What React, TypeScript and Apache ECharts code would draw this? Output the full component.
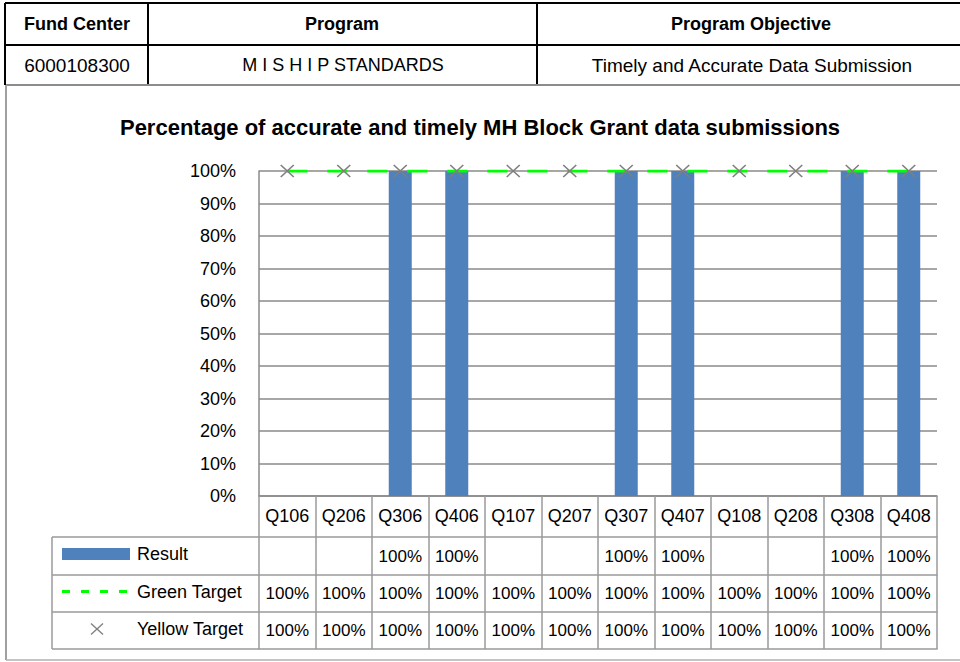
import React, { useEffect, useRef } from "react";
import * as echarts from "echarts";

// ---- Data ----
const CATEGORIES = ["Q106", "Q206", "Q306", "Q406", "Q107", "Q207", "Q307", "Q407", "Q108", "Q208", "Q308", "Q408"];
const RESULT: (number | null)[] = [null, null, 1, 1, null, null, 1, 1, null, null, 1, 1];
const GREEN_TARGET: number[] = [1, 1, 1, 1, 1, 1, 1, 1, 1, 1, 1, 1];
const YELLOW_TARGET: number[] = [1, 1, 1, 1, 1, 1, 1, 1, 1, 1, 1, 1];
const SERIES_NAMES = ["Result", "Green Target", "Yellow Target"];
const HEADER_LABELS = ["Fund Center", "Program", "Program Objective"];
const HEADER_VALUES = ["6000108300", "M I S H I P STANDARDS", "Timely and Accurate Data Submission"];
const TITLE = "Percentage of accurate and timely MH Block Grant data submissions";

// ---- Layout ----
const FONT = "'Liberation Sans', Arial, sans-serif";
const GRID_LEFT = 259;
const GRID_RIGHT = 937;
const GRID_TOP = 171;
const GRID_BOTTOM = 496;
const ROW_Y = [496, 537, 575, 612, 649];
const LEGEND_LEFT = 52;
const TABLE_LINE = "#9a9a9a";
const GRID_LINE = "#8a8a8a";
const BLUE = "#4F81BD";
const GREEN = "#00FF00";
const XGRAY = "#7f7f7f";

const fmtPct = (v: number | null | undefined) => (v == null ? "" : Math.round(v * 100) + "%");

export default function App() {
  const ref = useRef<HTMLDivElement>(null);

  useEffect(() => {
    document.body.style.margin = "0";
    if (!ref.current) return;
    const chart = echarts.init(ref.current, null, { renderer: "svg" });

    const rowsVals = [RESULT, GREEN_TARGET, YELLOW_TARGET];

    const dataAxes: any[] = rowsVals.map((vals, r) => ({
      type: "category",
      data: CATEGORIES,
      position: "bottom",
      offset: ROW_Y[r + 1] - GRID_BOTTOM,
      axisLine: { show: true, lineStyle: { color: TABLE_LINE, width: 1.5 } },
      axisTick: { show: true, interval: 0, length: ROW_Y[r + 2] - ROW_Y[r + 1], lineStyle: { color: TABLE_LINE, width: 1.5 } },
      axisLabel: {
        interval: 0,
        fontSize: 17,
        lineHeight: 17,
        color: "#000",
        fontFamily: FONT,
        margin: Math.round((ROW_Y[r + 2] - ROW_Y[r + 1]) / 2 - 8.5),
        formatter: (_v: string, i: number) => fmtPct(vals[i]),
      },
      splitLine: { show: false },
    }));

    const bottomLineAxis = {
      type: "category",
      data: CATEGORIES,
      position: "bottom",
      offset: ROW_Y[4] - GRID_BOTTOM,
      axisLine: { show: true, lineStyle: { color: TABLE_LINE, width: 1.5 } },
      axisTick: { show: false },
      axisLabel: { show: false },
    };

    const rowCenters = [0, 1, 2].map((r) => (ROW_Y[r + 1] + ROW_Y[r + 2]) / 2);

    const graphics: any[] = [
      // Top info table
      { type: "line", shape: { x1: 5, y1: 3, x2: 960, y2: 3 }, style: { stroke: "#000", lineWidth: 2 } },
      { type: "line", shape: { x1: 5, y1: 45, x2: 960, y2: 45 }, style: { stroke: "#000", lineWidth: 2 } },
      { type: "line", shape: { x1: 5, y1: 3, x2: 5, y2: 85 }, style: { stroke: "#000", lineWidth: 2 } },
      { type: "line", shape: { x1: 148, y1: 3, x2: 148, y2: 85 }, style: { stroke: "#000", lineWidth: 2 } },
      { type: "line", shape: { x1: 537, y1: 3, x2: 537, y2: 85 }, style: { stroke: "#000", lineWidth: 2 } },
      { type: "text", x: 77, y: 24, style: { text: HEADER_LABELS[0], fontSize: 18, fontWeight: "bold", fontFamily: FONT, fill: "#000", align: "center", verticalAlign: "middle" } },
      { type: "text", x: 342, y: 24, style: { text: HEADER_LABELS[1], fontSize: 18, fontWeight: "bold", fontFamily: FONT, fill: "#000", align: "center", verticalAlign: "middle" } },
      { type: "text", x: 751, y: 24, style: { text: HEADER_LABELS[2], fontSize: 18, fontWeight: "bold", fontFamily: FONT, fill: "#000", align: "center", verticalAlign: "middle" } },
      { type: "text", x: 77, y: 65, style: { text: HEADER_VALUES[0], fontSize: 19, fontFamily: FONT, fill: "#000", align: "center", verticalAlign: "middle" } },
      { type: "text", x: 343, y: 65, style: { text: HEADER_VALUES[1], fontSize: 18, fontFamily: FONT, fill: "#000", align: "center", verticalAlign: "middle" } },
      { type: "text", x: 752, y: 65, style: { text: HEADER_VALUES[2], fontSize: 19, fontFamily: FONT, fill: "#000", align: "center", verticalAlign: "middle" } },
      // Chart box border
      { type: "line", shape: { x1: 6, y1: 85, x2: 960, y2: 85 }, style: { stroke: "#8c8c8c", lineWidth: 2 } },
      { type: "line", shape: { x1: 6, y1: 85, x2: 6, y2: 660 }, style: { stroke: "#a0a0a0", lineWidth: 2 } },
      { type: "line", shape: { x1: 6, y1: 660, x2: 960, y2: 660 }, style: { stroke: "#b0b0b0", lineWidth: 1.5 } },
      // Data table legend column borders
      ...ROW_Y.slice(1).map((y) => ({ type: "line", shape: { x1: LEGEND_LEFT, y1: y, x2: GRID_LEFT, y2: y }, style: { stroke: TABLE_LINE, lineWidth: 1.5 } })),
      { type: "line", shape: { x1: LEGEND_LEFT, y1: ROW_Y[1], x2: LEGEND_LEFT, y2: ROW_Y[4] }, style: { stroke: TABLE_LINE, lineWidth: 1.5 } },
      // Legend keys
      { type: "rect", shape: { x: 62, y: rowCenters[0] - 8, width: 68, height: 12 }, style: { fill: BLUE } },
      { type: "line", shape: { x1: 62, y1: rowCenters[1] - 2, x2: 130, y2: rowCenters[1] - 2 }, style: { stroke: GREEN, lineWidth: 3, lineDash: [8, 11] } },
      { type: "line", shape: { x1: 91, y1: rowCenters[2] - 7, x2: 103, y2: rowCenters[2] + 4 }, style: { stroke: XGRAY, lineWidth: 1.3 } },
      { type: "line", shape: { x1: 103, y1: rowCenters[2] - 7, x2: 91, y2: rowCenters[2] + 4 }, style: { stroke: XGRAY, lineWidth: 1.3 } },
      ...SERIES_NAMES.map((name, r) => ({
        type: "text",
        x: 137,
        y: rowCenters[r] - 2,
        style: { text: name, fontSize: 18, fontFamily: FONT, fill: "#000", align: "left", verticalAlign: "middle" },
      })),
    ];

    const option: any = {
      animation: false,
      backgroundColor: "#fff",
      textStyle: { fontFamily: FONT },
      title: {
        text: TITLE,
        left: "center",
        top: 116,
        padding: 0,
        textStyle: { fontSize: 22, fontWeight: "bold", color: "#000", fontFamily: FONT },
      },
      legend: { show: false },
      grid: { left: GRID_LEFT, right: 960 - GRID_RIGHT, top: GRID_TOP, height: GRID_BOTTOM - GRID_TOP, containLabel: false },
      xAxis: [
        {
          type: "category",
          data: CATEGORIES,
          position: "bottom",
          axisLine: { show: true, lineStyle: { color: GRID_LINE, width: 1.5 } },
          axisTick: { show: true, interval: 0, length: ROW_Y[1] - ROW_Y[0], lineStyle: { color: TABLE_LINE, width: 1.5 } },
          axisLabel: { interval: 0, fontSize: 18, lineHeight: 18, color: "#000", fontFamily: FONT, margin: 11 },
          splitLine: { show: false },
        },
        ...dataAxes,
        bottomLineAxis,
      ],
      yAxis: {
        type: "value",
        min: 0,
        max: 1,
        interval: 0.1,
        axisLine: { show: true, lineStyle: { color: GRID_LINE, width: 1.5 } },
        axisTick: { show: false },
        axisLabel: { fontSize: 18, color: "#000", fontFamily: FONT, margin: 23, formatter: (v: number) => fmtPct(v) },
        splitLine: { show: true, lineStyle: { color: GRID_LINE, width: 1.5 } },
      },
      series: [
        {
          name: SERIES_NAMES[0],
          type: "bar",
          data: RESULT,
          barWidth: 23,
          itemStyle: { color: BLUE },
          z: 2,
        },
        {
          name: SERIES_NAMES[1],
          type: "line",
          data: GREEN_TARGET,
          symbol: "none",
          lineStyle: { color: GREEN, width: 3, type: [20, 20] },
          z: 3,
        },
        {
          name: SERIES_NAMES[2],
          type: "line",
          data: YELLOW_TARGET,
          symbol: "path://M0,0L10,10M10,0L0,10",
          symbolSize: [13, 12],
          lineStyle: { width: 0, opacity: 0 },
          itemStyle: { color: "transparent", borderColor: XGRAY, borderWidth: 1.5 },
          z: 4,
        },
      ],
      graphic: graphics,
    };

    chart.setOption(option);
    return () => chart.dispose();
  }, []);

  return <div ref={ref} style={{ position: "absolute", left: 0, top: 0, width: 960, height: 662 }} />;
}
